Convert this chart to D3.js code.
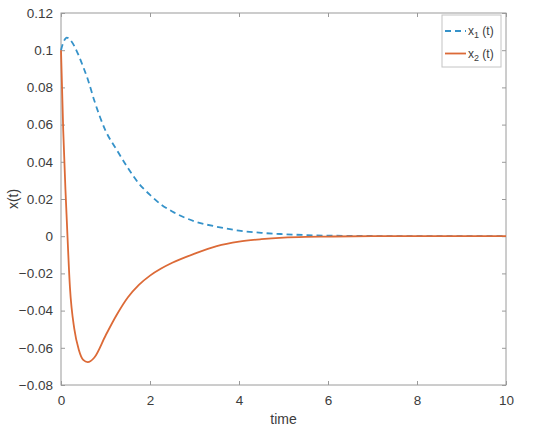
<!DOCTYPE html>
<html>
<head>
<meta charset="utf-8">
<script src="https://cdn.jsdelivr.net/npm/d3@7"></script>
<style>
  body { margin: 0; background: #fff; }
  svg { font-family: "Liberation Sans", Arial, sans-serif; }
</style>
</head>
<body>
<svg width="534" height="428"></svg>
<script>
// time samples and the two states
const time = [0, 0.05, 0.1, 0.13, 0.2, 0.3, 0.4, 0.5, 0.6, 0.75, 1, 1.25, 1.5, 1.75, 2, 2.25, 2.5, 3, 3.5, 4, 4.5, 5, 5.5, 6, 7, 8, 9, 10];
const x1 = [0.1, 0.104, 0.1062, 0.1068, 0.1058, 0.1022, 0.097, 0.091, 0.0845, 0.0728, 0.0568, 0.0465, 0.0368, 0.0283, 0.0222, 0.017, 0.0133, 0.008, 0.0051, 0.003, 0.0018, 0.0011, 0.0006, 0.0003, 0.0001, 0, 0, 0];
const x2 = [0.1, 0.057, 0.025, 0.0086, -0.0272, -0.05, -0.061, -0.0665, -0.0677, -0.0652, -0.0535, -0.0424, -0.033, -0.0262, -0.0212, -0.0174, -0.0143, -0.0094, -0.0053, -0.0029, -0.0016, -0.0008, -0.0004, -0.0002, 0, 0, 0, 0];
const xTicks = [0, 2, 4, 6, 8, 10];
const yTicks = [-0.08, -0.06, -0.04, -0.02, 0, 0.02, 0.04, 0.06, 0.08, 0.1, 0.12];

const svg = d3.select('svg');
const plotL = 61, plotR = 506, plotT = 13, plotB = 385;
const axisColor = '#9a9a9a';
const textColor = '#3c3c3c';

const xScale = d3.scaleLinear().domain([0, 10]).range([plotL, plotR]);
const yScale = d3.scaleLinear().domain([-0.08, 0.12]).range([plotB, plotT]);

// box
svg.append('rect')
  .attr('x', plotL).attr('y', plotT)
  .attr('width', plotR - plotL).attr('height', plotB - plotT)
  .attr('fill', 'none').attr('stroke', axisColor);

// axes with inward ticks, MATLAB style
const styleAxis = g => {
  g.select('.domain').remove();
  g.selectAll('.tick line').attr('stroke', axisColor);
  g.selectAll('.tick text').attr('fill', textColor).attr('font-size', 13.5);
};

svg.append('g')
  .attr('transform', `translate(0, ${plotB})`)
  .call(d3.axisBottom(xScale).tickValues(xTicks).tickSizeInner(-4).tickPadding(10).tickFormat(d3.format('d')))
  .call(styleAxis);
svg.append('g')
  .attr('transform', `translate(0, ${plotT})`)
  .call(d3.axisTop(xScale).tickValues(xTicks).tickSizeInner(-4).tickFormat(''))
  .call(styleAxis);
svg.append('g')
  .attr('transform', `translate(${plotL}, 0)`)
  .call(d3.axisLeft(yScale).tickValues(yTicks).tickSizeInner(-4).tickPadding(8).tickFormat(d => d3.format('~g')(+d.toFixed(2))))
  .call(styleAxis);
svg.append('g')
  .attr('transform', `translate(${plotR}, 0)`)
  .call(d3.axisRight(yScale).tickValues(yTicks).tickSizeInner(-4).tickFormat(''))
  .call(styleAxis);

// lines
const line = d3.line()
  .x(d => xScale(d[0]))
  .y(d => yScale(d[1]))
  .curve(d3.curveMonotoneX);

const series = [
  { name: 'x1', values: x1, color: '#3592c9', dash: '6,4' },
  { name: 'x2', values: x2, color: '#dc6a37', dash: null }
];

svg.selectAll('.series')
  .data(series)
  .enter()
  .append('path')
  .attr('class', 'series')
  .attr('d', s => line(time.map((t, i) => [t, s.values[i]])))
  .attr('fill', 'none')
  .attr('stroke', s => s.color)
  .attr('stroke-width', 1.8)
  .attr('stroke-dasharray', s => s.dash);

// axis labels
svg.append('text')
  .attr('x', (plotL + plotR) / 2)
  .attr('y', 424)
  .attr('text-anchor', 'middle')
  .attr('fill', textColor)
  .attr('font-size', 14)
  .text('time');

svg.append('text')
  .attr('transform', `translate(18, ${(plotT + plotB) / 2}) rotate(-90)`)
  .attr('text-anchor', 'middle')
  .attr('fill', textColor)
  .attr('font-size', 14)
  .text('x(t)');

// legend
const legend = svg.append('g');
legend.append('rect')
  .attr('x', 442).attr('y', 15)
  .attr('width', 59).attr('height', 52)
  .attr('fill', '#fff').attr('stroke', '#c4c4c4');

const items = legend.selectAll('.item')
  .data(series)
  .enter()
  .append('g')
  .attr('class', 'item')
  .attr('transform', (s, i) => `translate(0, ${31 + i * 22.5})`);

items.append('line')
  .attr('x1', 445).attr('x2', 466)
  .attr('stroke', s => s.color)
  .attr('stroke-width', 1.8)
  .attr('stroke-dasharray', s => s.dash);

const label = items.append('text')
  .attr('x', 468)
  .attr('y', 4)
  .attr('fill', textColor)
  .attr('font-size', 12);
label.append('tspan').text('x');
label.append('tspan').attr('font-size', 9).attr('dy', 3).text((s, i) => i + 1);
label.append('tspan').attr('dy', -3).text(' (t)');
</script>
</body>
</html>
